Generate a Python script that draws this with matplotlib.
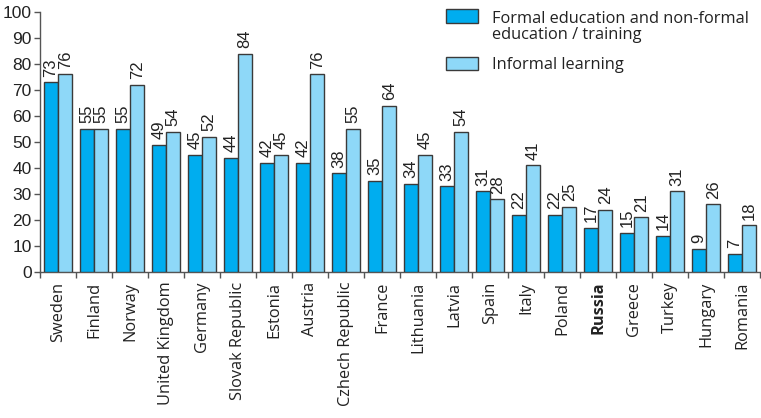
import numpy as np
import matplotlib

matplotlib.use("Agg")
import matplotlib.pyplot as plt
from matplotlib.patches import Rectangle
from matplotlib.ticker import FixedLocator

# ── Data ──────────────────────────────────────────────────────────────────────
COUNTRIES = ["Sweden", "Finland", "Norway", "United Kingdom", "Germany",
             "Slovak Republic", "Estonia", "Austria", "Czhech Republic", "France",
             "Lithuania", "Latvia", "Spain", "Italy", "Poland", "Russia",
             "Greece", "Turkey", "Hungary", "Romania"]
FORMAL = [73, 55, 55, 49, 45, 44, 42, 42, 38, 35, 34, 33, 31, 22, 22, 17, 15, 14, 9, 7]
INFORMAL = [76, 55, 72, 54, 52, 84, 45, 76, 55, 64, 45, 54, 28, 41, 25, 24, 21, 31, 26, 18]
SERIES_NAMES = ["Formal education and non-formal\neducation / training", "Informal learning"]
Y_TICKS = list(range(0, 101, 10))

# ── Style ─────────────────────────────────────────────────────────────────────
C_FORMAL, C_INFORMAL, EDGE, INK = "#00adef", "#8ed8f8", "#3a3a3a", "#222222"
NUM_FONT = ["Liberation Sans", "DejaVu Sans"]
LABEL_FONT = ["Open Sans", "DejaVu Sans"]

fig = plt.figure(figsize=(7.61, 4.18), dpi=100)
ax = fig.add_axes([40 / 761, 1 - 272 / 418, 720 / 761, 260 / 418])

x = np.arange(len(COUNTRIES))
w = 0.4
b1 = ax.bar(x - w / 2, FORMAL, width=w, color=C_FORMAL, edgecolor=EDGE, linewidth=1.0, zorder=3)
b2 = ax.bar(x + w / 2, INFORMAL, width=w, color=C_INFORMAL, edgecolor=EDGE, linewidth=1.0, zorder=3)

for bars, vals in ((b1, FORMAL), (b2, INFORMAL)):
    for r, v in zip(bars, vals):
        ax.annotate(str(v), (r.get_x() + r.get_width() / 2, r.get_height()),
                    xytext=(0, 4), textcoords="offset points", rotation=90,
                    ha="center", va="bottom", fontsize=12, color=INK, family=NUM_FONT)

ax.set_xlim(-0.5, len(COUNTRIES) - 0.5)
ax.set_ylim(0, 100)
ax.set_yticks(Y_TICKS)
ax.set_yticklabels([str(t) for t in Y_TICKS], fontsize=12.5, color=INK, family=NUM_FONT)
ax.tick_params(axis="y", length=4, width=1, color="#555555", pad=2)

ax.set_xticks(x)
ax.set_xticklabels(COUNTRIES, rotation=90, fontsize=11.8, color=INK, family=LABEL_FONT)
ax.tick_params(axis="x", length=0, pad=7)
for lbl in ax.get_xticklabels():
    if lbl.get_text() == "Russia":
        lbl.set_fontweight("bold")
ax.xaxis.set_minor_locator(FixedLocator(np.arange(-0.5, len(COUNTRIES), 1.0)))
ax.tick_params(axis="x", which="minor", length=4, width=1, color="#555555")

for s in ("top", "right"):
    ax.spines[s].set_visible(False)
for s in ("left", "bottom"):
    ax.spines[s].set_color("#555555")
    ax.spines[s].set_linewidth(1)

# ── Legend ────────────────────────────────────────────────────────────────────
for (ybox, hbox, ytxt), col, name in zip(((1 - 23 / 418, 14, 1 - 27 / 418),
                                          (1 - 70 / 418, 13, 1 - 65 / 418)),
                                         (C_FORMAL, C_INFORMAL), SERIES_NAMES):
    fig.patches.append(Rectangle((446 / 761, ybox), 32 / 761, hbox / 418, transform=fig.transFigure,
                                 facecolor=col, edgecolor=EDGE, linewidth=1.0))
    fig.text(492 / 761, ytxt, name, fontsize=11.8, color=INK, va="center", linespacing=1.05,
             family=LABEL_FONT)

fig.savefig("out.png", dpi=100, facecolor="white")
